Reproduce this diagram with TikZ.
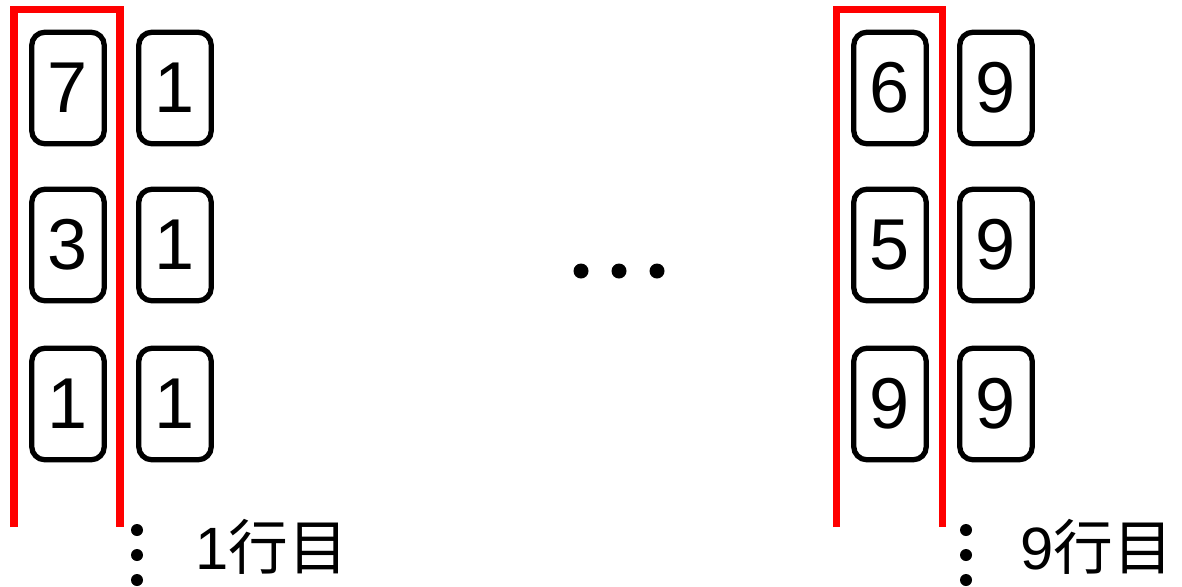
\documentclass[tikz,border=0pt]{standalone}
\usepackage{fontspec}
\setmainfont{Liberation Sans}
\newfontfamily\jpfont{Noto Sans CJK JP}
\usepackage{tikz}

\tikzset{
  card/.style={draw, line width=3pt, rounded corners=0.26cm, minimum width=1.45cm,
    minimum height=2.23cm, inner sep=0pt, font=\fontsize{41}{48}\selectfont},
  redline/.style={draw=red, line width=4pt},
  rowlabel/.style={anchor=base west, inner sep=0pt, font=\fontsize{34}{40}\selectfont}
}

\begin{document}
\begin{tikzpicture}[x=0.02cm, y=-0.02cm]
			
			\useasboundingbox (0,0) rectangle (1182,586);
			
			\coordinate (L1) at (14,527);
			\coordinate (L2) at (14,9.5);
			\coordinate (L3) at (120,9.5);
			\coordinate (L4) at (120,527);
			\coordinate (R1) at (836,527);
			\coordinate (R2) at (836,9.5);
			\coordinate (R3) at (942,9.5);
			\coordinate (R4) at (942,527);
			
			% first row
			\node[card] (a1) at (68,88) {7};
			\node[card] (a2) at (68,245) {3};
			\node[card] (a3) at (68,404) {1};
			\node[card] (b1) at (175,88) {1};
			\node[card] (b2) at (175,245) {1};
			\node[card] (b3) at (175,404) {1};
			
			% ninth row
			\node[card] (c1) at (890,88) {6};
			\node[card] (c2) at (890,245) {5};
			\node[card] (c3) at (890,404) {9};
			\node[card] (d1) at (996,88) {9};
			\node[card] (d2) at (996,245) {9};
			\node[card] (d3) at (996,404) {9};
			
			\draw[redline] (L1) -- (L2) -- (L3) -- (L4);
			\draw[redline] (R1) -- (R2) -- (R3) -- (R4);
			
			\fill (581,271) circle (7.5);
			\fill (619,271) circle (7.5);
			\fill (657,271) circle (7.5);
			
			\fill (137,530) circle (6);
			\fill (137,555) circle (6);
			\fill (137,580) circle (6);
			\node[rowlabel] (lab1) at (195,569) {1{\jpfont 行目}};
			
			\fill (966,530) circle (6);
			\fill (966,555) circle (6);
			\fill (966,580) circle (6);
			\node[rowlabel] (lab9) at (1020,569) {9{\jpfont 行目}};
			
		\end{tikzpicture}
\end{document}
